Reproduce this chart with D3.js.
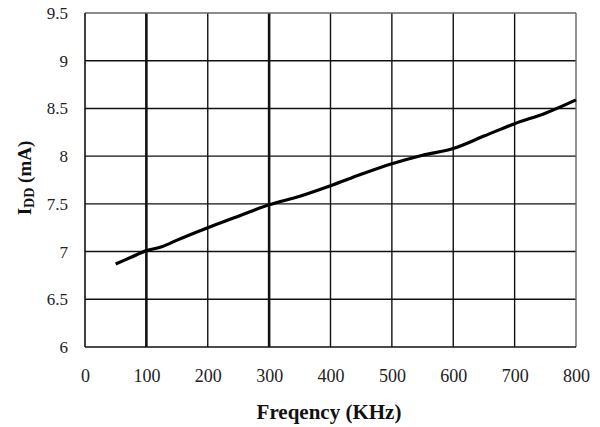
<!DOCTYPE html>
<html><head><meta charset="utf-8">
<script src="https://cdn.jsdelivr.net/npm/d3@7"></script>
<style>body{margin:0;background:#fff} svg text{font-family:"Liberation Serif","Times New Roman",Times,serif !important;}</style>
</head><body>
<svg id="c" width="600" height="427"></svg>
<script>
const freq = [50, 75, 100, 125, 150, 200, 250, 300, 350, 400, 450, 500, 550, 600, 650, 700, 750, 800];
const idd  = [6.87, 6.94, 7.01, 7.05, 7.12, 7.25, 7.37, 7.49, 7.58, 7.69, 7.81, 7.92, 8.01, 8.08, 8.21, 8.34, 8.45, 8.59];
const xTicks = [0, 100, 200, 300, 400, 500, 600, 700, 800];
const yTicks = [6, 6.5, 7, 7.5, 8, 8.5, 9, 9.5];
const yTickLabels = ["6", "6.5", "7", "7.5", "8", "8.5", "9", "9.5"];
const boldX = [100, 300];

const svg = d3.select("#c");
const L = 85, R = 576, T = 13, B = 347;
const x = d3.scaleLinear().domain([0, 800]).range([L, R]);
const y = d3.scaleLinear().domain([6, 9.5]).range([B, T]);

svg.append("g").selectAll("line").data(yTicks.filter(d => d > 6 && d < 9.5)).join("line")
  .attr("x1", L).attr("x2", R).attr("y1", d => y(d)).attr("y2", d => y(d))
  .attr("stroke", "#111").attr("stroke-width", 1.4);
svg.append("g").selectAll("line").data(xTicks.filter(d => d > 0 && d < 800)).join("line")
  .attr("x1", d => x(d)).attr("x2", d => x(d)).attr("y1", T).attr("y2", B)
  .attr("stroke", "#111").attr("stroke-width", d => boldX.includes(d) ? 2.6 : 1.4);
svg.append("line").attr("x1", L).attr("x2", R).attr("y1", T).attr("y2", T).attr("stroke", "#666").attr("stroke-width", 1.4);
svg.append("line").attr("x1", R).attr("x2", R).attr("y1", T).attr("y2", B).attr("stroke", "#666").attr("stroke-width", 1.4);
svg.append("line").attr("x1", L).attr("x2", L).attr("y1", T).attr("y2", B).attr("stroke", "#111").attr("stroke-width", 1.6);
svg.append("line").attr("x1", L).attr("x2", R).attr("y1", B).attr("y2", B).attr("stroke", "#111").attr("stroke-width", 1.6);

const xAxis = svg.append("g").attr("transform", `translate(0,${B})`)
  .call(d3.axisBottom(x).tickValues(xTicks).tickSize(0).tickPadding(0).tickFormat(d3.format("d")));
xAxis.select(".domain").remove();
xAxis.selectAll("text").attr("dy", null).attr("y", 35).attr("font-size", 18).attr("fill", "#222");

const yAxis = svg.append("g").attr("transform", `translate(${L},0)`)
  .call(d3.axisLeft(y).tickValues(yTicks).tickSize(0).tickPadding(17).tickFormat((d, i) => yTickLabels[i]));
yAxis.select(".domain").remove();
yAxis.selectAll("text").attr("font-size", 17).attr("fill", "#222");

svg.append("path").datum(freq.map((f, i) => [f, idd[i]]))
  .attr("d", d3.line().x(d => x(d[0])).y(d => y(d[1])).curve(d3.curveMonotoneX))
  .attr("fill", "none").attr("stroke", "#000").attr("stroke-width", 3.2);

svg.append("text").attr("x", 329).attr("y", 419).attr("text-anchor", "middle")
  .attr("font-weight", "bold").attr("font-size", 21).attr("fill", "#111")
  .text("Freqency (KHz)");
const yt = svg.append("text").attr("transform", "translate(31,178) rotate(-90)").attr("text-anchor", "middle")
  .attr("font-weight", "bold").attr("font-size", 19).attr("fill", "#111");
yt.append("tspan").text("I");
yt.append("tspan").attr("font-size", 14).attr("dy", 3).text("DD");
yt.append("tspan").attr("dy", -3).text(" (mA)");
</script>
</body></html>
